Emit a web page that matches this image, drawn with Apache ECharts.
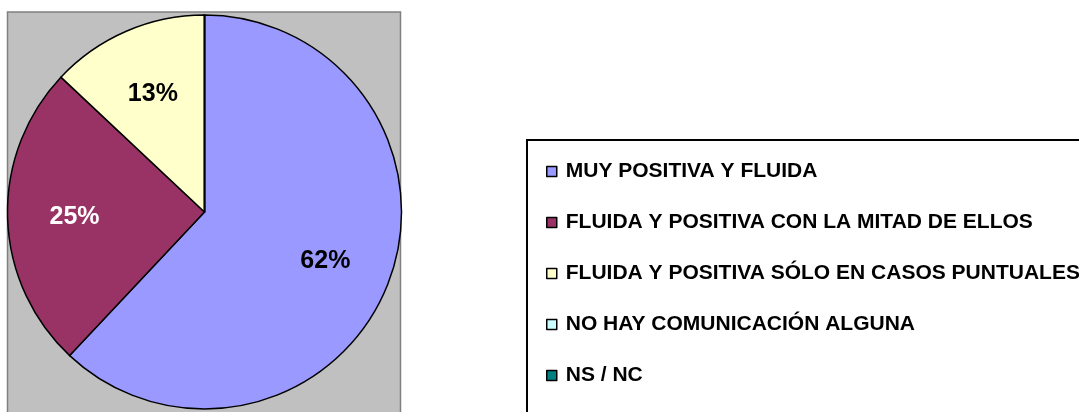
<!DOCTYPE html>
<html>
	<head>
		<meta charset="utf-8">
		<title>Comunicación</title>
		<style>
			html,body{margin:0;padding:0;background:#fff;}
			#chartBox{width:1079px;height:412px;}
		</style>
	</head>
	<body>
		<div id="chartBox"></div>
		<script src="https://cdn.jsdelivr.net/npm/echarts@6/dist/echarts.min.js" type="text/javascript" charset="utf-8"></script>
		<script type="text/javascript">
			// datos del gráfico
			var categories = ['MUY POSITIVA Y FLUIDA', 'FLUIDA Y POSITIVA CON LA MITAD DE ELLOS', 'FLUIDA Y POSITIVA SÓLO EN CASOS PUNTUALES', 'NO HAY COMUNICACIÓN ALGUNA', 'NS / NC'];
			var values = [62, 25, 13, 0, 0];
			var colors = ['#9999FF', '#993366', '#FFFFCC', '#CCFFFF', '#008080'];
			var labelColors = ['#000', '#fff', '#000', '#000', '#000'];

			var fontFam = '"Liberation Sans", Arial, sans-serif';
			var myChart = echarts.init(document.getElementById('chartBox'));

			var pieData = [], labelData = [];
			for(var i = 0; i < categories.length; i++){
				pieData.push({name: categories[i], value: values[i], itemStyle: {color: colors[i]}});
				labelData.push({name: categories[i], value: values[i], label: {color: labelColors[i]}});
			}

			var option = {
				backgroundColor: '#fff',
				animation: false,
				//fondo gris y marco de la leyenda
				graphic: [
					{type: 'rect', z: -1, shape: {x: 7.5, y: 12, width: 393, height: 430}, style: {fill: '#C0C0C0', stroke: '#808080', lineWidth: 1.5}},
					{type: 'rect', z: -1, shape: {x: 527, y: 140, width: 620, height: 320}, style: {fill: '#fff', stroke: '#000', lineWidth: 2}}
				],
				legend: {
					orient: 'vertical',
					left: 541,
					top: 156,
					data: categories,
					selectedMode: false,
					icon: 'rect',
					itemWidth: 10,
					itemHeight: 10,
					itemGap: 30,
					itemStyle: {borderColor: '#000', borderWidth: 1.5},
					textStyle: {fontFamily: fontFam, fontSize: 21, fontWeight: 'bold', color: '#000', lineHeight: 21, padding: [0, 0, 0, 4]}
				},
				series: [{
					type: 'pie',
					center: [204.5, 212],
					radius: 197,
					startAngle: 90,
					clockwise: true,
					silent: true,
					data: pieData,
					itemStyle: {borderColor: '#000', borderWidth: 1.5},
					label: {show: false},
					labelLine: {show: false}
				}, {
					//serie transparente solo para colocar las etiquetas
					type: 'pie',
					center: [204.5, 213],
					radius: 254,
					startAngle: 90,
					clockwise: true,
					silent: true,
					z: 3,
					data: labelData,
					itemStyle: {color: 'rgba(0,0,0,0)', borderWidth: 0},
					label: {
						show: true,
						position: 'inside',
						fontFamily: fontFam,
						fontSize: 25,
						fontWeight: 'bold',
						formatter: function(p){
							return p.value > 0 ? Math.round(p.percent) + '%' : '';
						}
					},
					labelLine: {show: false}
				}]
			};
			myChart.setOption(option);
		</script>
	</body>
</html>
